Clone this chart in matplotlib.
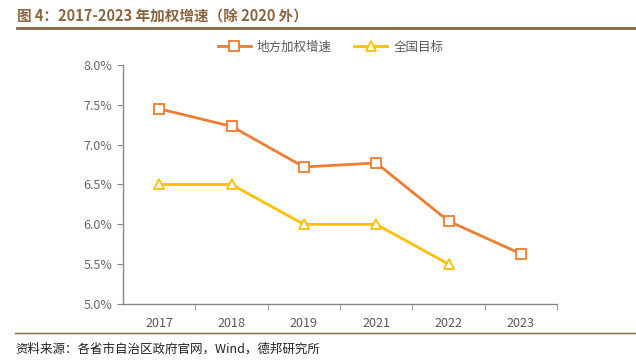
import matplotlib.pyplot as plt
from matplotlib.lines import Line2D
from matplotlib.ticker import FuncFormatter, FixedLocator

plt.rcParams['font.family'] = ['Noto Sans CJK SC', 'DejaVu Sans']

years = ['2017', '2018', '2019', '2021', '2022', '2023']
local_rate = [7.45, 7.23, 6.72, 6.77, 6.04, 5.63]
target_rate = [6.5, 6.5, 6.0, 6.0, 5.5]

orange = '#ED7D31'
yellow = '#FFC000'
brown = '#8A6440'
grey = '#595959'

fig = plt.figure(figsize=(6.36, 3.63), dpi=100)
ax = fig.add_axes([0.1934, 0.1625, 0.6826, 0.6585])

x = list(range(len(years)))
ax.plot(x, local_rate, color=orange, lw=2, marker='s', ms=7,
        mfc='white', mec=orange, mew=1.3, label='地方加权增速')
ax.plot(x[:len(target_rate)], target_rate, color=yellow, lw=2, marker='^', ms=7,
        mfc='white', mec=yellow, mew=1.3, label='全国目标')

ax.set_xlim(-0.5, len(years) - 0.5)
ax.set_ylim(5.0, 8.0)
ax.set_yticks([5.0, 5.5, 6.0, 6.5, 7.0, 7.5, 8.0])
ax.yaxis.set_major_formatter(FuncFormatter(lambda v, p: '%.1f%%' % v))
ax.set_xticks(x)
ax.set_xticklabels(years)
ax.xaxis.set_minor_locator(FixedLocator([i + 0.5 for i in range(len(years))]))
ax.tick_params(axis='x', which='major', length=0, pad=9, labelsize=9, labelcolor=grey)
ax.tick_params(axis='x', which='minor', length=4, color='#888888', direction='out')
ax.tick_params(axis='y', length=4, color='#888888', labelsize=9, labelcolor='#666666')
for s in ['top', 'right']:
    ax.spines[s].set_visible(False)
for s in ['left', 'bottom']:
    ax.spines[s].set_color('#888888')
    ax.spines[s].set_linewidth(1)

ax.legend(loc='center', bbox_to_anchor=(0.52, 0.87), bbox_transform=fig.transFigure,
          ncol=2, frameon=False, fontsize=9, labelcolor=grey, handlelength=2.6,
          handletextpad=0.5, columnspacing=1.8)

fig.text(0.027, 0.955, '图 4：2017-2023 年加权增速（除 2020 外）', fontsize=10.5,
         fontweight='bold', color=brown, va='center', ha='left')
fig.add_artist(Line2D([0.027, 1.0], [0.922, 0.922], color=brown, lw=2))
fig.add_artist(Line2D([0.024, 1.0], [0.083, 0.083], color=brown, lw=1))
fig.text(0.024, 0.038, '资料来源：各省市自治区政府官网，Wind，德邦研究所', fontsize=9,
         color='#222222', va='center', ha='left')

fig.savefig('out.png', dpi=100)
